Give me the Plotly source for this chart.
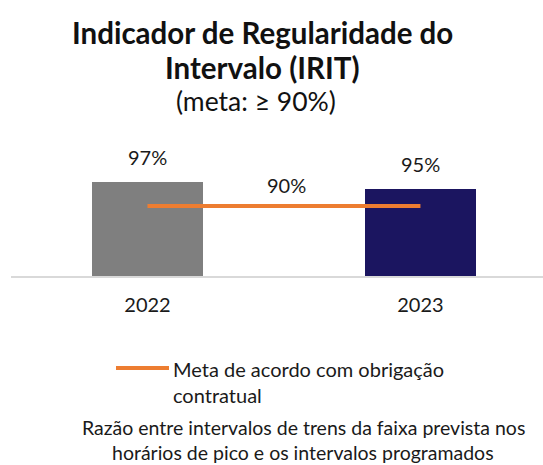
import plotly.graph_objects as go

# Data
years = ["2022", "2023"]
irit = [97, 95]
meta = [90, 90]
meta_label = "90%"
bar_colors = ["#7f7f7f", "#1b1560"]
meta_color = "#ED7D31"

title_lines = ["Indicador de Regularidade do", "Intervalo (IRIT)"]
subtitle = "(meta: ≥ 90%)"
legend_text = "Meta de acordo com obrigação<br>contratual"
footer_lines = [
    "Razão entre intervalos de trens da faixa prevista nos",
    "horários de pico e os intervalos programados",
]

# Page geometry (pixels)
W, H = 543, 465
ML, MR, MT, MB = 11, 0, 171, 189
PW, PH = W - ML - MR, H - MT - MB
FONT = "Lato, 'Open Sans', sans-serif"


def fx(x_px):
    """pixel x -> paper x"""
    return (x_px - ML) / PW


def fy(y_px):
    """pixel y (from top) -> paper y"""
    return (H - MB - y_px) / PH


fig = go.Figure()

fig.add_bar(
    x=years, y=irit, width=0.404,
    marker=dict(color=bar_colors, line=dict(width=0)),
    showlegend=False, hoverinfo="skip",
)
fig.add_scatter(
    x=years, y=meta, mode="lines",
    line=dict(color=meta_color, width=4),
    showlegend=False, hoverinfo="skip",
)

annotations = []
# value labels above bars (category positions 0, 1)
for i, v in enumerate(irit):
    annotations.append(dict(
        x=i, y=v, xref="x", yref="y", text=f"{v}%", showarrow=False,
        yanchor="middle", yshift=25, font=dict(size=20, color="#1a1a1a", family=FONT),
    ))
# target label, midway between the two years
annotations.append(dict(
    x=0.5, y=meta[0], xref="x", yref="y", text=meta_label, showarrow=False,
    yanchor="middle", yshift=21, xshift=3, font=dict(size=20, color="#1a1a1a", family=FONT),
))

# title
for i, line in enumerate(title_lines):
    annotations.append(dict(
        x=fx(262), y=fy(33 + 34 * i), xref="paper", yref="paper", text=f"<b>{line}</b>",
        showarrow=False, xanchor="center", yanchor="middle",
        font=dict(size=29.5, color="#111111", family=FONT),
    ))
annotations.append(dict(
    x=fx(256), y=fy(101), xref="paper", yref="paper", text=subtitle,
    showarrow=False, xanchor="center", yanchor="middle",
    font=dict(size=26.5, color="#111111", family=FONT),
))

# legend entry
annotations.append(dict(
    x=fx(171), y=fy(355), xref="paper", yref="paper", text=legend_text,
    showarrow=False, xanchor="left", yanchor="top", align="left",
    font=dict(size=20, color="#1a1a1a", family=FONT),
))

# footer note
for i, line in enumerate(footer_lines):
    annotations.append(dict(
        x=fx(303), y=fy(427 + 25 * i), xref="paper", yref="paper", text=line,
        showarrow=False, xanchor="center", yanchor="middle",
        font=dict(size=19.5, color="#1a1a1a", family=FONT),
    ))

fig.update_layout(
    width=W, height=H,
    margin=dict(l=ML, r=MR, t=MT, b=MB, pad=0),
    paper_bgcolor="white", plot_bgcolor="white",
    showlegend=False,
    bargap=0,
    annotations=annotations,
    shapes=[dict(
        type="line", xref="paper", yref="paper",
        x0=fx(116), x1=fx(169), y0=fy(368), y1=fy(368),
        line=dict(color=meta_color, width=4),
    )],
    xaxis=dict(
        type="category", range=[-0.5, 1.449], fixedrange=True,
        showline=True, linecolor="#d9d9d9", linewidth=2,
        showgrid=False, zeroline=False, ticks="",
        ticklabelstandoff=10,
        tickfont=dict(size=20, color="#1a1a1a", family=FONT),
    ),
    yaxis=dict(
        range=[70, 100], visible=False, fixedrange=True,
    ),
)

fig.write_html("out.html", config={"displayModeBar": False})
